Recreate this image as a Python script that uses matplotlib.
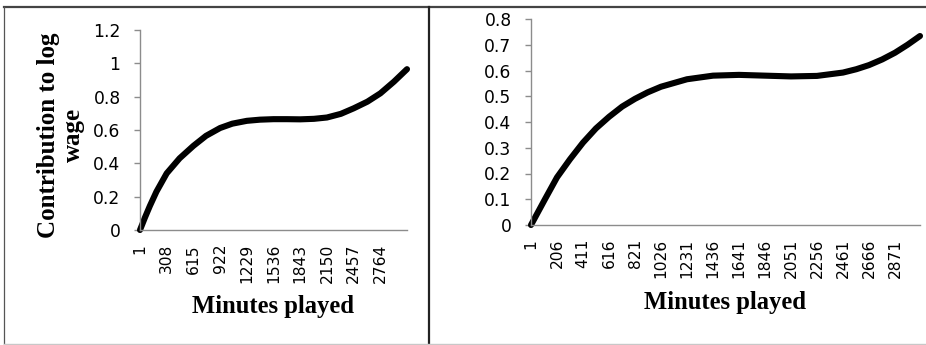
import matplotlib
matplotlib.use("Agg")
import matplotlib.pyplot as plt
from matplotlib.lines import Line2D

# ---------------------------------------------------------
# Data
# ---------------------------------------------------------

minutes_left = [1, 58, 115, 190, 308, 456, 615, 760, 922, 1062, 1229, 1380,
                1536, 1690, 1843, 2000, 2150, 2310, 2457, 2615, 2764, 2920, 3070]
contrib_left = [0.0, 0.075, 0.145, 0.23, 0.34, 0.43, 0.505, 0.565, 0.612, 0.638,
                0.655, 0.662, 0.665, 0.665, 0.664, 0.667, 0.675, 0.697, 0.73,
                0.77, 0.82, 0.89, 0.965]

minutes_right = [1, 111, 206, 308, 411, 513, 616, 720, 821, 920, 1026, 1231,
                 1436, 1641, 1846, 2051, 2256, 2461, 2566, 2666, 2770, 2871,
                 2970, 3068]
contrib_right = [0.0, 0.10, 0.185, 0.255, 0.32, 0.375, 0.42, 0.46, 0.49, 0.515,
                 0.537, 0.566, 0.580, 0.583, 0.58, 0.577, 0.579, 0.592, 0.605,
                 0.621, 0.643, 0.669, 0.70, 0.734]

xticks_left = [1, 308, 615, 922, 1229, 1536, 1843, 2150, 2457, 2764]
xticks_right = [1, 206, 411, 616, 821, 1026, 1231, 1436, 1641, 1846, 2051,
                2256, 2461, 2666, 2871]
yticks_left = [0, 0.2, 0.4, 0.6, 0.8, 1.0, 1.2]
ylabels_left = ["0", "0.2", "0.4", "0.6", "0.8", "1", "1.2"]
yticks_right = [0, 0.1, 0.2, 0.3, 0.4, 0.5, 0.6, 0.7, 0.8]
ylabels_right = ["0", "0.1", "0.2", "0.3", "0.4", "0.5", "0.6", "0.7", "0.8"]

# ---------------------------------------------------------
# Figure
# ---------------------------------------------------------

W, H = 926, 345
fig = plt.figure(figsize=(W / 100, H / 100), dpi=100)

tick_font = "DejaVu Sans"
title_font = "Liberation Serif"
axis_grey = "#8c8c8c"


def px_box(x0, y_top, x1, y_bot):
    return [x0 / W, 1 - y_bot / H, (x1 - x0) / W, (y_bot - y_top) / H]


def draw_panel(ax, minutes, contrib, xticks, yticks, ylabels, xmax, ymax):
    ax.plot(minutes, contrib, color="black", linewidth=4.4,
            solid_capstyle="round", solid_joinstyle="round", clip_on=False)
    ax.set_xlim(1, xmax)
    ax.set_ylim(0, ymax)
    for side in ["top", "right"]:
        ax.spines[side].set_visible(False)
    for side in ["left", "bottom"]:
        ax.spines[side].set_color(axis_grey)
        ax.spines[side].set_linewidth(1.0)
    ax.set_xticks(xticks)
    ax.set_xticklabels([str(t) for t in xticks], rotation=90,
                       fontfamily=tick_font, fontsize=11.2)
    ax.set_yticks(yticks)
    ax.set_yticklabels(ylabels, fontfamily=tick_font, fontsize=12.3)
    ax.tick_params(axis="x", length=0, pad=10, colors="black")
    ax.tick_params(axis="y", length=4, width=1, color=axis_grey, pad=10)
    ax.patch.set_alpha(0)


ax1 = fig.add_axes(px_box(140, 30, 407, 230))
draw_panel(ax1, minutes_left, contrib_left, xticks_left,
           yticks_left, ylabels_left, 3070, 1.2)

ax2 = fig.add_axes(px_box(531, 19, 920, 225))
draw_panel(ax2, minutes_right, contrib_right, xticks_right,
           yticks_right, ylabels_right, 3068, 0.8)

# axis titles
fig.text(273 / W, 1 - 307 / H, "Minutes played", ha="center", va="center",
         fontfamily=title_font, fontweight="bold", fontsize=17.7)
fig.text(725 / W, 1 - 302 / H, "Minutes played", ha="center", va="center",
         fontfamily=title_font, fontweight="bold", fontsize=17.7)
fig.text(61 / W, 1 - 135 / H, "Contribution to log\nwage", ha="center",
         va="center", rotation=90, multialignment="center",
         fontfamily=title_font, fontweight="bold", fontsize=18,
         linespacing=1.1)

# panel borders
fig.add_artist(Line2D([4 / W, 1], [1 - 6.5 / H, 1 - 6.5 / H],
                      transform=fig.transFigure, color="#444444", linewidth=1.6))
fig.add_artist(Line2D([4 / W, 4 / W], [1 - 6.5 / H, 0],
                      transform=fig.transFigure, color="#555555", linewidth=0.9))
fig.add_artist(Line2D([429 / W, 429 / W], [1 - 6.5 / H, 0],
                      transform=fig.transFigure, color="#222222", linewidth=1.6))
fig.add_artist(Line2D([4 / W, 1], [1 - 344 / H, 1 - 344 / H],
                      transform=fig.transFigure, color="#c8c8c8", linewidth=1.0))

fig.savefig("out.png", dpi=100)
